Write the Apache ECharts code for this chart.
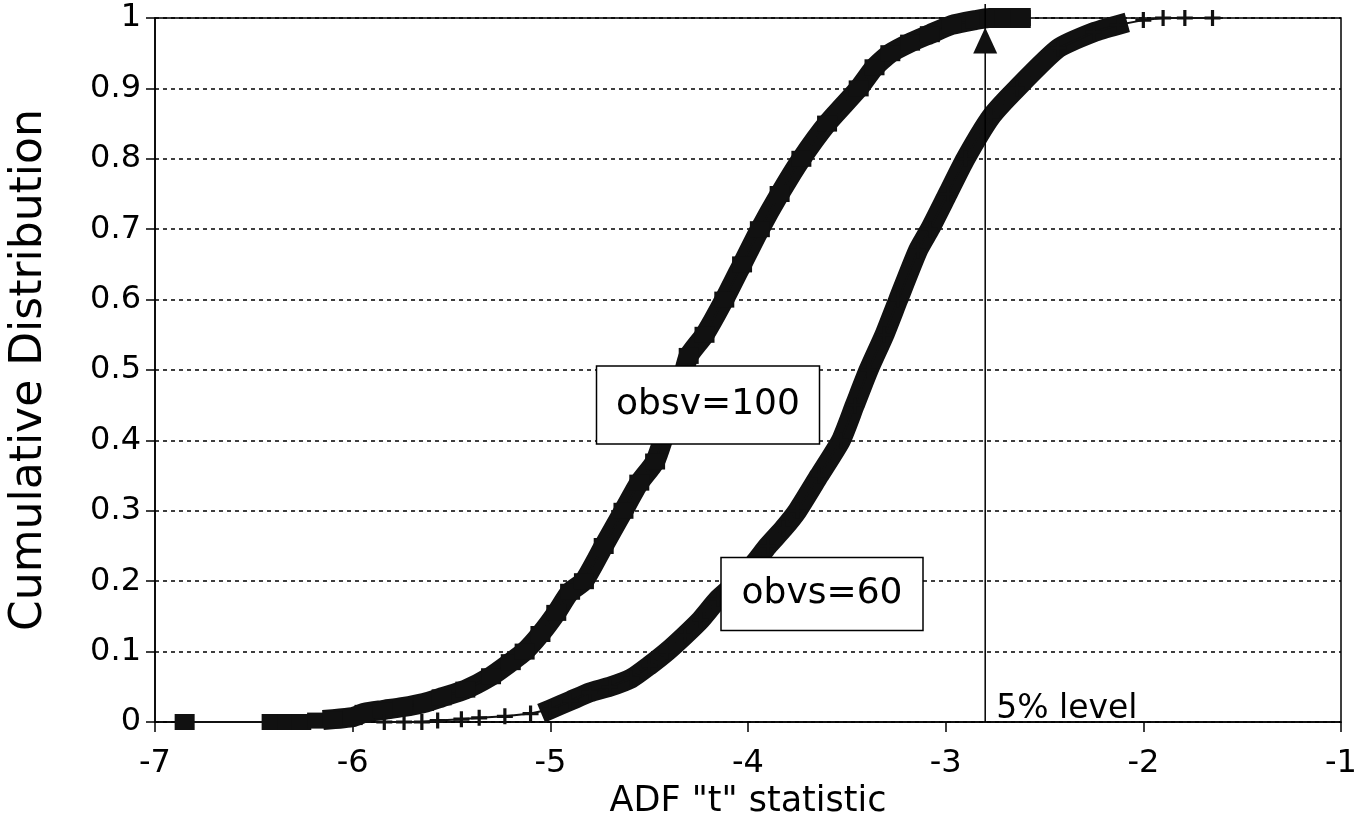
<!DOCTYPE html>
<html>
<head>
<meta charset="utf-8">
<script src="https://cdn.jsdelivr.net/npm/echarts@6/dist/echarts.min.js"></script>
<style>
html,body{margin:0;padding:0;background:#fff;}
#c{width:1364px;height:832px;}
</style>
</head>
<body>
<div id="c"></div>
<script>
// ---- data ----
const obsv100X = [-6.85,-6.41,-6.33,-6.26,-6.18,-6.10,-6.00,-5.94,-5.85,-5.75,-5.64,-5.55,-5.43,-5.30,-5.20,-5.13,-5.05,-4.97,-4.90,-4.83,-4.73,-4.63,-4.55,-4.47,-4.42,-4.37,-4.33,-4.30,-4.22,-4.12,-4.03,-3.94,-3.84,-3.73,-3.60,-3.44,-3.36,-3.28,-3.18,-3.08,-2.97,-2.85,-2.78,-2.70,-2.62];
const obsv100Y = [0,0,0,0,0.002,0.004,0.007,0.013,0.017,0.021,0.027,0.035,0.046,0.065,0.085,0.10,0.125,0.155,0.185,0.20,0.25,0.30,0.34,0.37,0.41,0.45,0.49,0.52,0.55,0.60,0.65,0.70,0.75,0.80,0.85,0.90,0.93,0.95,0.965,0.977,0.99,0.997,1,1,1];

const obvs60X = [-5.84,-5.74,-5.65,-5.57,-5.45,-5.36,-5.23,-5.10,-5.00,-4.90,-4.80,-4.70,-4.59,-4.50,-4.41,-4.32,-4.24,-4.15,-4.05,-3.97,-3.90,-3.82,-3.75,-3.64,-3.53,-3.46,-3.39,-3.31,-3.24,-3.14,-3.08,-2.99,-2.90,-2.77,-2.64,-2.43,-2.25,-2.13,-2.00,-1.90,-1.79,-1.65];
const obvs60Y = [0,0,0,0.002,0.004,0.006,0.008,0.012,0.018,0.03,0.042,0.05,0.062,0.08,0.10,0.123,0.145,0.175,0.20,0.225,0.25,0.275,0.30,0.35,0.40,0.45,0.50,0.55,0.60,0.67,0.70,0.75,0.80,0.86,0.90,0.957,0.98,0.99,0.997,1,1,1];

const levelX = -2.8;          // 5% critical value
const levelMarkerY = 0.968;   // triangle marker on the 5% line
const xTickMin = -7, xTickMax = -1, xTickStep = 1;
const yTickMin = 0, yTickMax = 1, yTickStep = 0.1;
const seriesLabels = ['obsv=100', 'obvs=60'];
const levelLabel = '5% level';
const xTitle = 'ADF "t" statistic';
const yTitle = 'Cumulative Distribution';

// ---- build ----
const pts100 = obsv100X.map((x, i) => [x, obsv100Y[i]]);
const pts60 = obvs60X.map((x, i) => [x, obvs60Y[i]]);
const band100 = pts100.filter(p => p[1] >= 0.004);
const band60 = pts60.filter(p => p[1] >= 0.015 && p[1] <= 0.99);

const FONT = '"DejaVu Sans", sans-serif';
const INK = '#111';
const plusPath = 'path://M4,0h2v4h4v2h-4v4h-2v-4h-4v-2h4z';

const chart = echarts.init(document.getElementById('c'), null, {renderer: 'canvas'});

const option = {
  animation: false,
  backgroundColor: '#fff',
  grid: {left: 153, right: 23, top: 18, bottom: 110, show: true, borderColor: '#000', borderWidth: 1.5, backgroundColor: 'transparent'},
  xAxis: {
    type: 'value', min: xTickMin, max: xTickMax, interval: xTickStep,
    name: xTitle, nameLocation: 'middle', nameGap: 47,
    nameTextStyle: {fontFamily: FONT, fontSize: 35, color: '#000'},
    axisLine: {show: true, onZero: false, lineStyle: {color: '#000', width: 1.5}},
    axisTick: {show: true, inside: false, length: 10, lineStyle: {color: '#000', width: 1.5}},
    axisLabel: {fontFamily: FONT, fontSize: 32, color: '#000', margin: 26},
    splitLine: {show: false}
  },
  yAxis: {
    type: 'value', min: yTickMin, max: yTickMax, interval: yTickStep,
    name: yTitle, nameLocation: 'middle', nameGap: 103,
    nameTextStyle: {fontFamily: FONT, fontSize: 44, color: '#000'},
    axisLine: {show: true, onZero: false, lineStyle: {color: '#000', width: 1.5}},
    axisTick: {show: true, inside: false, length: 9, lineStyle: {color: '#000', width: 1.5}},
    axisLabel: {fontFamily: FONT, fontSize: 32, color: '#000', margin: 14},
    splitLine: {show: true, lineStyle: {color: '#000', width: 1.5, type: [4, 4]}}
  },
  series: [
    {type: 'line', name: 'band100', data: band100, symbol: 'none', smooth: 0.2,
     lineStyle: {color: INK, width: 20, cap: 'square', join: 'round'}, z: 3, silent: true},
    {type: 'line', name: seriesLabels[0], data: pts100, symbol: 'rect', symbolSize: [20, 16],
     itemStyle: {color: INK}, lineStyle: {color: INK, width: 2}, z: 4},
    {type: 'line', name: 'band60', data: band60, symbol: 'none', smooth: 0.2,
     lineStyle: {color: INK, width: 20, cap: 'square', join: 'round'}, z: 3, silent: true},
    {type: 'line', name: seriesLabels[1], data: pts60, symbol: plusPath, symbolSize: 16,
     itemStyle: {color: INK}, lineStyle: {color: INK, width: 2}, z: 4},
    {type: 'line', name: 'level', data: [[levelX, 0], [levelX, 1.02]], symbol: 'none', clip: false,
     lineStyle: {color: '#000', width: 1.5}, z: 5},
    {type: 'scatter', name: 'levelMark', data: [[levelX, levelMarkerY]], symbol: 'triangle', symbolSize: [24, 26],
     itemStyle: {color: INK, opacity: 1}, z: 6}
  ]
};
chart.setOption(option);

function box(cx, cy, w, h, text) {
  return [
    {type: 'rect', z: 100, shape: {x: cx - w / 2, y: cy - h / 2, width: w, height: h},
     style: {fill: '#fff', stroke: '#000', lineWidth: 1.5}},
    {type: 'text', z: 101, x: cx, y: cy,
     style: {text: text, font: '36px ' + FONT, fill: '#000', align: 'center', verticalAlign: 'middle', textAlign: 'center', textVerticalAlign: 'middle'}}
  ];
}
const p0 = chart.convertToPixel({gridIndex: 0}, [levelX, 0]);
chart.setOption({
  graphic: [].concat(
    box(708, 405, 223, 78, seriesLabels[0]),
    box(822, 594, 202, 73, seriesLabels[1]),
    [{type: 'text', z: 101, x: p0[0] + 11, y: p0[1] + 4,
      style: {text: levelLabel, font: '33px ' + FONT, fill: '#000', align: 'left', verticalAlign: 'bottom', textAlign: 'left', textVerticalAlign: 'bottom'}}]
  )
});
</script>
</body>
</html>
